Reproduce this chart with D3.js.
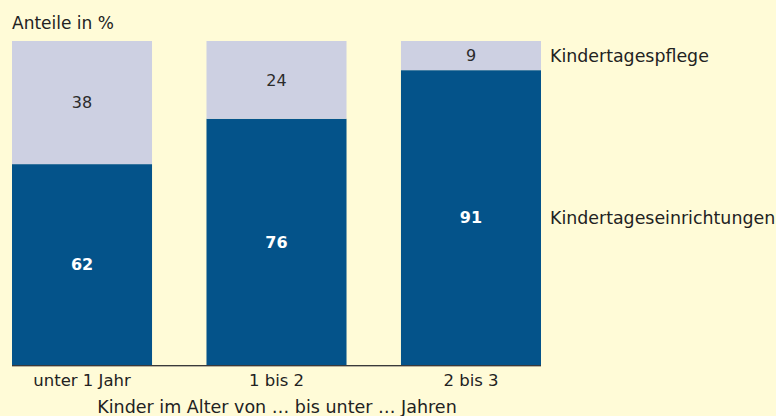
<!DOCTYPE html>
<html>
<head>
<meta charset="utf-8">
<script src="https://cdn.jsdelivr.net/npm/d3@7"></script>
<style>
  body { margin: 0; background: #fffbd7; }
  svg { display: block; font-family: "DejaVu Sans", sans-serif; }
</style>
</head>
<body>
<svg id="chart" width="776" height="416"></svg>
<script>
var categories = ["unter 1 Jahr", "1 bis 2", "2 bis 3"];
var einrichtungen = [62, 76, 91];
var pflege = [38, 24, 9];
var seriesNames = ["Kindertageseinrichtungen", "Kindertagespflege"];

var svg = d3.select("#chart"),
    margin = {top: 41, left: 12},
    width = 529,
    height = 324;

svg.append("rect").attr("width", 776).attr("height", 416).attr("fill", "#fffbd7");

var g = svg.append("g").attr("transform", "translate(" + margin.left + "," + margin.top + ")");

var x = d3.scaleBand().domain(categories).range([0, width]).paddingInner(0.28).paddingOuter(0);
var y = d3.scaleLinear().domain([0, 100]).range([height, 0]);
var colors = d3.scaleOrdinal().domain(seriesNames).range(["#04538a", "#cdd0e2"]);

var data = categories.map(function(c, i) {
  return {cat: c, "Kindertageseinrichtungen": einrichtungen[i], "Kindertagespflege": pflege[i]};
});
var stack = d3.stack().keys(seriesNames)(data);

var layer = g.selectAll(".layer")
  .data(stack)
  .enter().append("g")
  .attr("fill", function(d) { return colors(d.key); });

layer.selectAll("rect")
  .data(function(d) { return d; })
  .enter().append("rect")
  .attr("x", function(d) { return x(d.data.cat); })
  .attr("y", function(d) { return y(d[1]); })
  .attr("width", x.bandwidth())
  .attr("height", function(d) { return y(d[0]) - y(d[1]); });

layer.selectAll("text")
  .data(function(d) { return d.map(function(p) { return {p: p, key: d.key}; }); })
  .enter().append("text")
  .attr("x", function(d) { return x(d.p.data.cat) + x.bandwidth() / 2; })
  .attr("y", function(d) { return (y(d.p[0]) + y(d.p[1])) / 2; })
  .attr("dy", "0.36em")
  .attr("text-anchor", "middle")
  .style("font-size", "16px")
  .style("font-weight", function(d) { return d.key == "Kindertagespflege" ? "normal" : "bold"; })
  .attr("fill", function(d) { return d.key == "Kindertagespflege" ? "#2b2b2b" : "#fff"; })
  .text(function(d) { return d.p[1] - d.p[0]; });

// baseline + category labels
var xAxis = g.append("g")
  .attr("transform", "translate(0," + height + ")")
  .call(d3.axisBottom(x).tickSize(0).tickPadding(9));
xAxis.select(".domain").attr("stroke", "#3a3a3a").attr("stroke-width", 1).attr("d", "M0,0.5H" + width);
xAxis.append("path").attr("stroke", "#b8b3a0").attr("d", "M0,1.5H" + width);
xAxis.selectAll("text")
  .attr("fill", "#222")
  .style("font-family", "'DejaVu Sans', sans-serif")
  .style("font-size", "16.5px");

svg.append("text")
  .attr("x", 277)
  .attr("y", 413)
  .attr("text-anchor", "middle")
  .attr("fill", "#222")
  .style("font-size", "17.5px")
  .text("Kinder im Alter von \u2026 bis unter \u2026 Jahren");

svg.append("text")
  .attr("x", 12).attr("y", 29)
  .attr("fill", "#222")
  .style("font-size", "17px")
  .text("Anteile in %");

// series labels at right of last bar
var lastStack = stack.map(function(s) { return {key: s.key, d: s[s.length - 1]}; });
svg.selectAll(".serieslabel")
  .data(lastStack)
  .enter().append("text")
  .attr("x", margin.left + width + 9)
  .attr("y", function(d) { return margin.top + (y(d.d[0]) + y(d.d[1])) / 2; })
  .attr("dy", "0.36em")
  .attr("fill", "#222")
  .style("font-size", "17.4px")
  .text(function(d) { return d.key; });
</script>
</body>
</html>
